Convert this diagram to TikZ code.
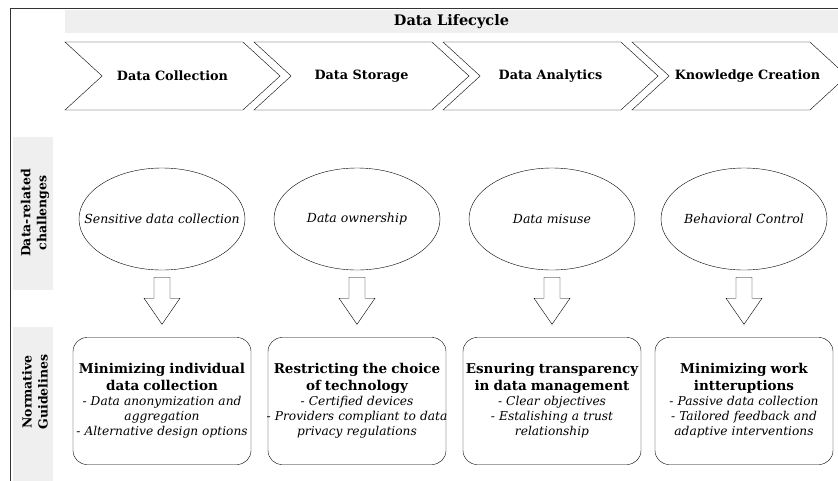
\documentclass[tikz,border=0pt]{standalone}
\usepackage{fontspec}
\setmainfont{DejaVu Serif}
\usepackage{tikz}
\usetikzlibrary{positioning,calc,shapes.geometric,shapes.symbols}
\definecolor{bandgray}{HTML}{EFEFEF}
\newcommand{\gtitle}[1]{{\fontsize{13.5}{17}\selectfont\upshape\bfseries #1\par}}
\newcommand{\wideline}[1]{\makebox[\linewidth]{#1}}
\newcommand{\hollowarrow}[2]{%
  \draw[fill=white] ($(#1.south)+(-8,7)$) -- ($(#1.south)+(-8,28)$) -- ($(#1.south)+(-18,28)$)
    -- ($(#2.north)+(0,-13)$) -- ($(#1.south)+(18,28)$) -- ($(#1.south)+(8,28)$) -- ($(#1.south)+(8,7)$) -- cycle;}

\begin{document}
\begin{tikzpicture}[x=1pt,y=-1pt,font=\fontsize{12}{15}\selectfont,
  stage/.style={signal,draw,signal to=east,signal from=west,signal pointer angle=85,
    minimum width=215,minimum height=68,inner sep=0,font=\fontsize{12.8}{15}\selectfont\bfseries},
  stagetxt/.style={font=\fontsize{12.8}{15}\selectfont\bfseries},
  chal/.style={ellipse,draw,minimum width=166,minimum height=102,inner sep=0},
  chaltxt/.style={font=\fontsize{12.5}{15}\selectfont\itshape},
  guide/.style={draw,rounded corners=14,minimum width=178,minimum height=127,text width=174,
    align=center,inner sep=2,font=\fontsize{12.2}{15}\selectfont\itshape},
  rowlabel/.style={rotate=90,align=center,font=\fontsize{12.5}{16}\selectfont\bfseries}]
  \useasboundingbox (0,0) rectangle (838,480);
  \draw[black!80,line width=0.8pt] (10,500) |- (900,8);
  % lifecycle header
  \node[fill=bandgray,minimum width=773,minimum height=23,inner sep=0,font=\fontsize{14.5}{17}\selectfont\bfseries] (life) at (451.5,21.5) {Data Lifecycle};
  \node[stage] (s1) at (172.5,76) {Data Collection};
  \node[stage] (s2) at (361.5,76) {Data Storage};
  \node[stage] (s3) at (550.5,76) {Data Analytics};
  \node[stage] (s4) at (739.5,76) {};
  \node[stagetxt] (s4t) at ($(s4)+(8,0)$) {Knowledge Creation};
  % row labels
  \fill[bandgray] (13,137) rectangle (53,290);
  \node[rowlabel] (rchal) at (35,213) {Data-related\\challenges};
  \fill[bandgray] (13,327) rectangle (53,485);
  \node[rowlabel] (rnorm) at (35,392) {Normative\\Guidelines};
  % challenges
  \node[chal] (c1) at (162,219) {};  \node[chaltxt] (c1t) at (c1) {Sensitive data collection};
  \node[chal] (c2) at (357,219) {};  \node[chaltxt] (c2t) at (c2) {Data ownership};
  \node[chal] (c3) at (552,219) {};  \node[chaltxt] (c3t) at (c3) {Data misuse};
  \node[chal] (c4) at (744,219) {};  \node[chaltxt] (c4t) at (c4) {Behavioral Control};
  % guidelines
  \node[guide] (g1) at (162,401) {\gtitle{Minimizing individual\\data collection}- Data anonymization and\\aggregation\\- Alternative design options};
  \node[guide] (g2) at (357,401) {\gtitle{Restricting the choice\\of technology}- Certified devices\\\wideline{- Providers compliant to data}\\privacy regulations};
  \node[guide] (g3) at (552,401) {\gtitle{Esnuring transparency\\in data management}- Clear objectives\\- Estalishing a trust\\relationship};
  \node[guide] (g4) at (744,401) {\gtitle{Minimizing work\\intteruptions}- Passive data collection\\- Tailored feedback and\\adaptive interventions};
  \hollowarrow{c1}{g1}
  \hollowarrow{c2}{g2}
  \hollowarrow{c3}{g3}
  \hollowarrow{c4}{g4}
\end{tikzpicture}
\end{document}
